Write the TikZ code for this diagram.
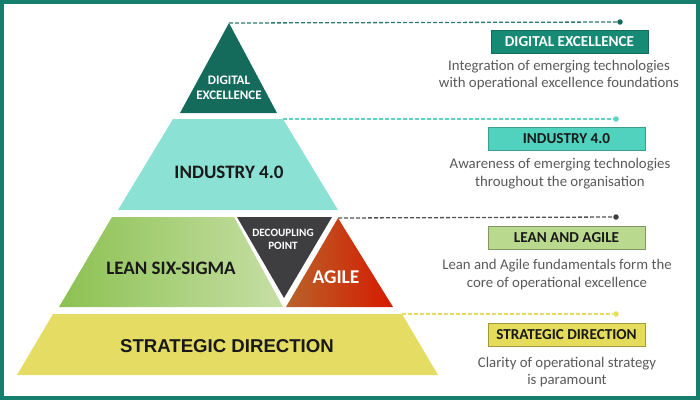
\documentclass[tikz,border=0pt]{standalone}
\usepackage{fontspec}
\setmainfont{Carlito}
\newfontfamily\arialbf{Liberation Sans}
\usepackage{xcolor}
\usepackage{tikz}
\definecolor{frameteal}{HTML}{177E6C}
\definecolor{deteal}{HTML}{146B5C}
\definecolor{indteal}{HTML}{8CE1D5}
\definecolor{leanL}{HTML}{8CC152}
\definecolor{leanR}{HTML}{C6DFA4}
\definecolor{decgray}{HTML}{3E3D40}
\definecolor{agileL}{HTML}{B8632A}
\definecolor{agileR}{HTML}{D61A00}
\definecolor{sdyellow}{HTML}{E5DC63}
\definecolor{descgray}{HTML}{595959}
\definecolor{detag}{HTML}{168A74}
\definecolor{indtag}{HTML}{50D2BF}
\definecolor{indline}{HTML}{5ED3C2}
\definecolor{latag}{HTML}{B9D98F}
\definecolor{sdtag}{HTML}{E4DC5A}

\begin{document}
\begin{tikzpicture}[x=1pt,y=-1pt,
  lbl/.style={align=center, inner sep=0pt, text=black!90},
  tag/.style={minimum width=157pt, minimum height=23pt, inner sep=0pt, line width=0.9pt, text=black!90, font=\fontsize{15.2}{17}\selectfont\bfseries},
  desc/.style={align=center, inner sep=0pt, text=descgray, font=\fontsize{14.8}{17.5}\selectfont},
  lead/.style={dash pattern=on 4pt off 2pt, line width=1.3pt},
  tip/.style={circle, inner sep=0pt, minimum size=5.5pt}]
\useasboundingbox (0,0) rectangle (700,400);
\draw[frameteal, line width=4pt] (2,2) rectangle (698,398);
% pyramid
\fill[deteal] (229,23) -- (277,113) -- (180,113) -- cycle;
\fill[indteal] (173,119) -- (283,119) -- (338,210) -- (118,210) -- cycle;
\shade[left color=leanL, right color=leanR] (112,217) -- (234,217) -- (283,307) -- (59,307) -- cycle;
\fill[decgray] (237,217) -- (332,217) -- (284,298) -- cycle;
\shade[left color=agileL, right color=agileR] (338,218) -- (393,307) -- (286,307) -- cycle;
\fill[sdyellow] (53,314) -- (402,314) -- (438,375) -- (17,375) -- cycle;
\coordinate (deTop) at (229,23);
\coordinate (indTop) at (283,119);
\coordinate (agTop) at (338,218);
\coordinate (sdTop) at (402,314);
\node[lbl, text=white, font=\fontsize{13}{15.5}\selectfont\bfseries] (de) at (229,88) {DIGITAL\\EXCELLENCE};
\node[lbl, font=\fontsize{19}{22}\selectfont\bfseries] (ind) at (229,172) {INDUSTRY 4.0};
\node[lbl, font=\fontsize{19}{22}\selectfont\bfseries] (lean) at (171,268) {LEAN SIX-SIGMA};
\node[lbl, text=white, font=\fontsize{11.2}{13}\selectfont\bfseries] (dec) at (283,239) {DECOUPLING\\POINT};
\node[lbl, text=white, font=\fontsize{19.5}{22}\selectfont\bfseries] (agile) at (336,277) {AGILE};
\node[lbl, font=\arialbf\fontsize{18.6}{22}\selectfont\bfseries] (sd) at (227,346) {STRATEGIC DIRECTION};
% leaders
\node[tip, fill=deteal] (deDot) at (620,22) {};
\node[tip, fill=indline] (indDot) at (616,119) {};
\node[tip, fill=decgray] (laDot) at (616,217) {};
\node[tip, fill=sdyellow] (sdDot) at (616,314) {};
\draw[lead, deteal!90] (deTop) -- (deDot);
\draw[lead, indline] (indTop) -- (indDot);
\draw[lead, decgray!90] (agTop) -- (laDot);
\draw[lead, sdyellow] (sdTop) -- (sdDot);
% tags
\node[tag, fill=detag, draw=deteal, text=white] (deTag) at (569.5,41.5) {DIGITAL EXCELLENCE};
\node[desc] (deTxt) at (559,75) {Integration of emerging technologies\\with operational excellence foundations};
\node[tag, fill=indtag, draw=indtag!75!black] (indTag) at (566.5,139) {INDUSTRY 4.0};
\node[desc] (indTxt) at (560,173.5) {Awareness of emerging technologies\\throughout the organisation};
\node[tag, fill=latag, draw=latag!70!black] (laTag) at (566.5,237.5) {LEAN AND AGILE};
\node[desc] (laTxt) at (557,274.5) {Lean and Agile fundamentals form the\\core of operational excellence};
\node[tag, fill=sdtag, draw=sdtag!70!black] (sdTag) at (566.5,334.5) {STRATEGIC DIRECTION};
\node[desc] (sdTxt) at (567,372) {Clarity of operational strategy\\is paramount};
\end{tikzpicture}
\end{document}
